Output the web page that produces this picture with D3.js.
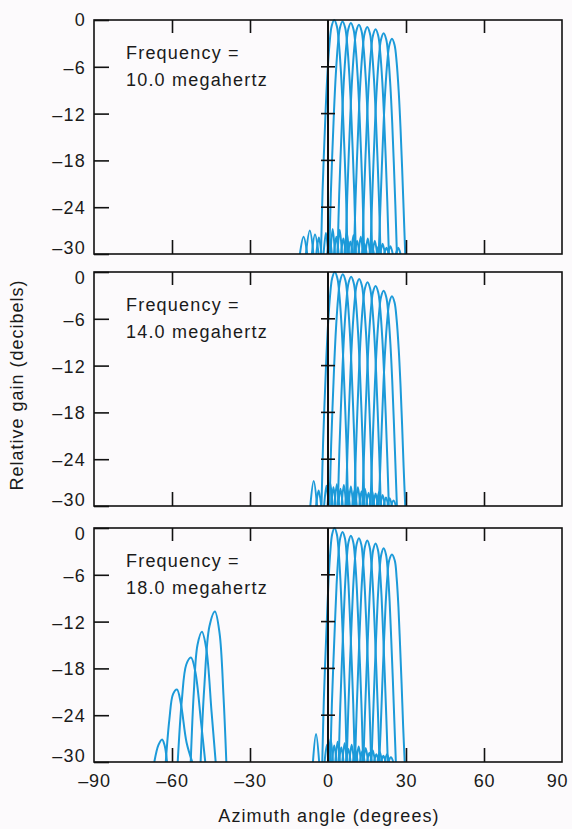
<!DOCTYPE html>
<html>
<head>
<meta charset="utf-8">
<script src="https://cdn.jsdelivr.net/npm/d3@7"></script>
<style>
  html, body { margin: 0; padding: 0; background: #fcfafc; }
  svg { display: block; }
  text { font-family: "Liberation Sans", Arial, sans-serif; fill: #1a1a1a; }
</style>
</head>
<body>
<svg id="chart" width="572" height="829"></svg>
<script>
// ---------------- DATA ----------------
const xTicks = [-90, -60, -30, 0, 30, 60, 90];
const xTickLabels = ["\u201390", "\u201360", "\u201330", "0", "30", "60", "90"];
const yTicks = [0, -6, -12, -18, -24, -30];
const yTickLabels = ["0", "\u20136", "\u201312", "\u201318", "\u201324", "\u201330"];
const frequencies = ["10.0", "14.0", "18.0"];

// Main beams, 10 MHz  ([azimuth deg, relative gain dB])
const beams10 = [
  [[-2.7,-30],[-2.1,-22],[-1.5,-16.5],[-0.9,-11.5],[-0.2,-6.8],[0.6,-3],[1.4,-0.8],[2.4,0],[3.4,-0.8],[4.2,-3],[5.0,-6.8],[5.7,-11.5],[6.3,-16.5],[6.9,-22],[7.5,-30]],
  [[0.5,-30],[1.1,-22.2],[1.7,-16.7],[2.3,-11.7],[3.0,-7],[3.8,-3.2],[4.6,-1],[5.6,-0.2],[6.6,-1],[7.4,-3.2],[8.2,-7],[8.9,-11.7],[9.5,-16.7],[10.1,-22.2],[10.7,-30]],
  [[3.7,-30],[4.3,-22.4],[4.9,-16.9],[5.5,-11.9],[6.2,-7.2],[7.0,-3.4],[7.8,-1.2],[8.8,-0.4],[9.8,-1.2],[10.6,-3.4],[11.4,-7.2],[12.1,-11.9],[12.7,-16.9],[13.3,-22.4],[13.9,-30]],
  [[6.8,-30],[7.4,-22.6],[8.0,-17.1],[8.6,-12.1],[9.3,-7.4],[10.1,-3.6],[10.9,-1.4],[11.9,-0.6],[12.9,-1.4],[13.7,-3.6],[14.5,-7.4],[15.2,-12.1],[15.8,-17.1],[16.4,-22.6],[17.0,-30]],
  [[10.0,-30],[10.6,-22.9],[11.2,-17.4],[11.8,-12.4],[12.5,-7.7],[13.3,-3.9],[14.1,-1.7],[15.1,-0.9],[16.1,-1.7],[16.9,-3.9],[17.7,-7.7],[18.4,-12.4],[19.0,-17.4],[19.6,-22.9],[20.2,-30]],
  [[13.2,-30],[13.8,-23.2],[14.4,-17.7],[15.0,-12.7],[15.7,-8],[16.5,-4.2],[17.3,-2],[18.3,-1.2],[19.3,-2],[20.1,-4.2],[20.9,-8],[21.6,-12.7],[22.2,-17.7],[22.8,-23.2],[23.4,-30]],
  [[16.3,-30],[16.9,-23.7],[17.5,-18.2],[18.1,-13.2],[18.8,-8.5],[19.6,-4.7],[20.4,-2.5],[21.4,-1.7],[22.4,-2.5],[23.2,-4.7],[24.0,-8.5],[24.7,-13.2],[25.3,-18.2],[25.9,-23.7],[26.5,-30]],
  [[19.5,-30],[20.1,-24.4],[20.7,-18.9],[21.3,-13.9],[22.0,-9.2],[22.8,-5.4],[23.6,-3.2],[24.6,-2.4],[25.6,-3.2],[26.4,-5.4],[27.2,-9.2],[27.9,-13.9],[28.5,-18.9],[29.1,-24.4],[29.7,-30]]
];
const side10 = [
  [[-10.8,-30],[-9.4,-27.8],[-8.0,-30]], [[-8.5,-30],[-7.0,-27.0],[-5.6,-30]],
  [[-6.2,-30],[-5.0,-27.5],[-3.6,-30]], [[-4.5,-30],[-3.5,-27.9],[-2.5,-30]],
  [[-1.7,-30],[-0.8,-27.3],[0.1,-30]], [[-0.3,-30],[0.6,-28.0],[1.5,-30]],
  [[0.9,-30],[1.8,-26.8],[2.7,-30]], [[2.3,-30],[3.2,-27.8],[4.1,-30]],
  [[3.6,-30],[4.5,-26.9],[5.4,-30]], [[5.0,-30],[5.9,-28.0],[6.8,-30]],
  [[6.3,-30],[7.2,-27.2],[8.1,-30]], [[7.7,-30],[8.6,-28.4],[9.5,-30]],
  [[8.9,-30],[9.8,-27.6],[10.7,-30]], [[10.3,-30],[11.2,-28.3],[12.1,-30]],
  [[11.7,-30],[12.6,-27.8],[13.5,-30]], [[13.1,-30],[14.0,-28.7],[14.9,-30]],
  [[14.4,-30],[15.3,-28.0],[16.2,-30]], [[15.9,-30],[16.8,-28.8],[17.7,-30]],
  [[17.1,-30],[18.0,-28.3],[18.9,-30]], [[18.6,-30],[19.5,-29.0],[20.4,-30]],
  [[20.1,-30],[21.0,-28.7],[21.9,-30]], [[21.6,-30],[22.5,-29.2],[23.4,-30]],
  [[23.1,-30],[24.0,-29.0],[24.9,-30]], [[26.1,-30],[27.0,-29.2],[27.9,-30]]
];

// Main beams, 14 MHz
const beams14 = [
  [[-2.5,-30],[-1.9,-22],[-1.3,-16.5],[-0.7,-11.5],[0.0,-6.8],[0.8,-3],[1.6,-0.8],[2.6,0],[3.6,-0.8],[4.4,-3],[5.2,-6.8],[5.9,-11.5],[6.5,-16.5],[7.1,-22],[7.7,-30]],
  [[0.6,-30],[1.2,-22.3],[1.8,-16.8],[2.4,-11.8],[3.1,-7.1],[3.9,-3.3],[4.7,-1.1],[5.7,-0.3],[6.7,-1.1],[7.5,-3.3],[8.3,-7.1],[9.0,-11.8],[9.6,-16.8],[10.2,-22.3],[10.8,-30]],
  [[3.8,-30],[4.4,-22.6],[5.0,-17.1],[5.6,-12.1],[6.3,-7.4],[7.1,-3.6],[7.9,-1.4],[8.9,-0.6],[9.9,-1.4],[10.7,-3.6],[11.5,-7.4],[12.2,-12.1],[12.8,-17.1],[13.4,-22.6],[14.0,-30]],
  [[6.9,-30],[7.5,-22.9],[8.1,-17.4],[8.7,-12.4],[9.4,-7.7],[10.2,-3.9],[11.0,-1.7],[12.0,-0.9],[13.0,-1.7],[13.8,-3.9],[14.6,-7.7],[15.3,-12.4],[15.9,-17.4],[16.5,-22.9],[17.1,-30]],
  [[10.1,-30],[10.7,-23.3],[11.3,-17.8],[11.9,-12.8],[12.6,-8.1],[13.4,-4.3],[14.2,-2.1],[15.2,-1.3],[16.2,-2.1],[17.0,-4.3],[17.8,-8.1],[18.5,-12.8],[19.1,-17.8],[19.7,-23.3],[20.3,-30]],
  [[13.2,-30],[13.8,-23.8],[14.4,-18.3],[15.0,-13.3],[15.7,-8.6],[16.5,-4.8],[17.3,-2.6],[18.3,-1.8],[19.3,-2.6],[20.1,-4.8],[20.9,-8.6],[21.6,-13.3],[22.2,-18.3],[22.8,-23.8],[23.4,-30]],
  [[16.3,-30],[16.9,-24.4],[17.5,-18.9],[18.1,-13.9],[18.8,-9.2],[19.6,-5.4],[20.4,-3.2],[21.4,-2.4],[22.4,-3.2],[23.2,-5.4],[24.0,-9.2],[24.7,-13.9],[25.3,-18.9],[25.9,-24.4],[26.5,-30]],
  [[19.5,-30],[20.1,-25.1],[20.7,-19.6],[21.3,-14.6],[22.0,-9.9],[22.8,-6.1],[23.6,-3.9],[24.6,-3.1],[25.6,-3.9],[26.4,-6.1],[27.2,-9.9],[27.9,-14.6],[28.5,-19.6],[29.1,-25.1],[29.7,-30]]
];
const side14 = [
  [[-6.8,-30],[-5.5,-26.8],[-4.2,-30]], [[-4.6,-30],[-3.6,-28.0],[-2.6,-30]],
  [[-1.5,-30],[-0.6,-27.4],[0.3,-30]], [[-0.2,-30],[0.8,-27.0],[1.8,-30]],
  [[1.2,-30],[2.1,-27.6],[3.0,-30]], [[2.5,-30],[3.4,-27.2],[4.3,-30]],
  [[3.9,-30],[4.8,-27.8],[5.7,-30]], [[5.2,-30],[6.1,-27.3],[7.0,-30]],
  [[6.6,-30],[7.5,-27.9],[8.4,-30]], [[7.9,-30],[8.8,-27.5],[9.7,-30]],
  [[9.3,-30],[10.2,-28.0],[11.1,-30]], [[10.6,-30],[11.5,-27.6],[12.4,-30]],
  [[12.0,-30],[12.9,-28.1],[13.8,-30]], [[13.3,-30],[14.2,-27.8],[15.1,-30]],
  [[14.7,-30],[15.6,-28.3],[16.5,-30]], [[16.0,-30],[16.9,-28.0],[17.8,-30]],
  [[17.4,-30],[18.3,-28.4],[19.2,-30]], [[18.7,-30],[19.6,-28.2],[20.5,-30]],
  [[20.1,-30],[21.0,-28.6],[21.9,-30]], [[21.4,-30],[22.3,-28.9],[23.2,-30]],
  [[22.8,-30],[23.7,-29.0],[24.6,-30]], [[24.3,-30],[25.2,-29.3],[26.1,-30]]
];

// Main beams, 18 MHz
const beams18 = [
  [[-2.2,-30],[-1.6,-22],[-1.0,-16.5],[-0.4,-11.5],[0.2,-6.8],[0.9,-3],[1.6,-0.8],[2.5,0],[3.4,-0.8],[4.1,-3],[4.8,-6.8],[5.4,-11.5],[6.0,-16.5],[6.6,-22],[7.2,-30]],
  [[0.9,-30],[1.5,-22.5],[2.1,-17],[2.7,-12],[3.3,-7.3],[4.0,-3.5],[4.7,-1.3],[5.6,-0.5],[6.5,-1.3],[7.2,-3.5],[7.9,-7.3],[8.5,-12],[9.1,-17],[9.7,-22.5],[10.3,-30]],
  [[4.1,-30],[4.7,-23],[5.3,-17.5],[5.9,-12.5],[6.5,-7.8],[7.2,-4.0],[7.9,-1.8],[8.8,-1.0],[9.7,-1.8],[10.4,-4.0],[11.1,-7.8],[11.7,-12.5],[12.3,-17.5],[12.9,-23],[13.5,-30]],
  [[7.2,-30],[7.8,-23.3],[8.4,-17.8],[9.0,-12.8],[9.6,-8.1],[10.3,-4.3],[11.0,-2.1],[11.9,-1.3],[12.8,-2.1],[13.5,-4.3],[14.2,-8.1],[14.8,-12.8],[15.4,-17.8],[16.0,-23.3],[16.6,-30]],
  [[10.4,-30],[11.0,-23.6],[11.6,-18.1],[12.2,-13.1],[12.8,-8.4],[13.5,-4.6],[14.2,-2.4],[15.1,-1.6],[16.0,-2.4],[16.7,-4.6],[17.4,-8.4],[18.0,-13.1],[18.6,-18.1],[19.2,-23.6],[19.8,-30]],
  [[13.6,-30],[14.2,-24],[14.8,-18.5],[15.4,-13.5],[16.0,-8.8],[16.7,-5.0],[17.4,-2.8],[18.3,-2.0],[19.2,-2.8],[19.9,-5.0],[20.6,-8.8],[21.2,-13.5],[21.8,-18.5],[22.4,-24],[23.0,-30]],
  [[16.7,-30],[17.3,-24.6],[17.9,-19.1],[18.5,-14.1],[19.1,-9.4],[19.8,-5.6],[20.5,-3.4],[21.4,-2.6],[22.3,-3.4],[23.0,-5.6],[23.7,-9.4],[24.3,-14.1],[24.9,-19.1],[25.5,-24.6],[26.1,-30]],
  [[19.7,-30],[20.3,-25.4],[20.9,-19.9],[21.5,-14.9],[22.1,-10.2],[22.8,-6.4],[23.5,-4.2],[24.6,-3.4],[25.7,-4.2],[26.4,-6.4],[27.1,-10.2],[27.7,-14.9],[28.3,-19.9],[28.9,-25.4],[29.5,-30]]
];
const side18 = [
  [[-5.8,-30],[-4.6,-26.4],[-3.4,-30]], [[-1.3,-30],[-0.4,-27.8],[0.5,-30]],
  [[0.1,-30],[1.0,-27.0],[1.9,-30]], [[1.5,-30],[2.4,-27.9],[3.3,-30]],
  [[2.8,-30],[3.7,-27.4],[4.6,-30]], [[4.2,-30],[5.1,-28.1],[6.0,-30]],
  [[5.5,-30],[6.4,-27.6],[7.3,-30]], [[6.9,-30],[7.8,-28.3],[8.7,-30]],
  [[8.2,-30],[9.1,-27.8],[10.0,-30]], [[9.6,-30],[10.5,-28.4],[11.4,-30]],
  [[10.9,-30],[11.8,-28.0],[12.7,-30]], [[12.3,-30],[13.2,-28.6],[14.1,-30]],
  [[13.6,-30],[14.5,-28.2],[15.4,-30]], [[15.0,-30],[15.9,-28.8],[16.8,-30]],
  [[16.3,-30],[17.2,-28.5],[18.1,-30]], [[17.7,-30],[18.6,-29.0],[19.5,-30]],
  [[19.0,-30],[19.9,-28.7],[20.8,-30]], [[20.4,-30],[21.3,-29.2],[22.2,-30]],
  [[21.8,-30],[22.7,-29.0],[23.6,-30]], [[23.3,-30],[24.2,-29.4],[25.1,-30]]
];
// Grating lobes, 18 MHz
const grating18 = [
  [[-66.8,-30],[-65.2,-27.8],[-63.8,-27.1],[-62.9,-27.8],[-61.9,-30]],
  [[-62.4,-30],[-61.0,-24.5],[-59.6,-21.3],[-58.1,-20.7],[-56.6,-22.5],[-54.4,-27.5],[-52.2,-30]],
  [[-57.8,-30],[-56.2,-22.0],[-54.5,-17.5],[-52.7,-16.6],[-51.0,-18.5],[-48.8,-25.0],[-47.2,-30]],
  [[-52.8,-30],[-51.6,-21.0],[-50.2,-15.0],[-48.5,-13.3],[-46.8,-15.5],[-44.8,-23.5],[-43.2,-30]],
  [[-49.0,-30],[-47.6,-20.5],[-45.6,-12.6],[-43.5,-10.7],[-41.7,-13.5],[-40.2,-21.5],[-39.1,-30]]
];

const panels = [
  { freq: frequencies[0], beams: beams10, side: side10, extra: [] },
  { freq: frequencies[1], beams: beams14, side: side14, extra: [] },
  { freq: frequencies[2], beams: beams18, side: side18, extra: grating18 }
];

// ---------------- LAYOUT ----------------
const left = 94, right = 562;
const panelTops = [20, 272, 528];
const panelH = 234;
const blue = "#1c9ad9";

const svg = d3.select("#chart");
const x = d3.scaleLinear().domain([-90, 90]).range([left, right]);

panels.forEach((p, i) => {
  const top = panelTops[i];
  const y = d3.scaleLinear().domain([0, -30]).range([top, top + panelH]);
  const g = svg.append("g");

  const clipId = "clip" + i;
  svg.append("clipPath").attr("id", clipId)
    .append("rect").attr("x", left).attr("y", top - 1).attr("width", right - left).attr("height", panelH + 1);

  const line = d3.line()
    .x(d => x(d[0])).y(d => y(d[1]))
    .curve(d3.curveCatmullRom.alpha(0.5));

  const curves = g.append("g").attr("clip-path", `url(#${clipId})`);
  const all = p.side.concat(p.extra, p.beams);
  curves.selectAll("path").data(all).join("path")
    .attr("d", line)
    .attr("fill", "none")
    .attr("stroke", blue)
    .attr("stroke-width", 2)
    .attr("stroke-linejoin", "round");

  // left axis with inward ticks
  const yAxis = d3.axisLeft(y).tickValues(yTicks).tickSize(-15).tickPadding(24)
    .tickFormat((d, k) => yTickLabels[k]);
  const ya = g.append("g").attr("transform", `translate(${left},0)`).call(yAxis);
  ya.select(".domain").remove();
  ya.selectAll("line").attr("stroke", "#111").attr("stroke-width", 1.6);
  ya.selectAll("text").attr("font-size", 18).attr("letter-spacing", 1.2)
    .attr("font-family", "Liberation Sans, Arial, sans-serif").attr("fill", "#1a1a1a")
    .attr("x", -8)
    .attr("dy", d => d === 0 ? (i === 0 ? "0.28em" : "0.62em") : (d === -30 ? "-0.02em" : "0.36em"));

  // top inward ticks
  const topAxis = d3.axisTop(x).tickValues(xTicks.filter(v => v !== 0 && Math.abs(v) !== 90)).tickSize(-13).tickFormat("");
  const ta = g.append("g").attr("transform", `translate(0,${top})`).call(topAxis);
  ta.select(".domain").remove();
  ta.selectAll("line").attr("stroke", "#111").attr("stroke-width", 1.6);

  // bottom inward ticks
  const botAxis = d3.axisBottom(x).tickValues(xTicks.filter(v => v !== 0 && Math.abs(v) !== 90)).tickSize(-14).tickFormat("");
  const ba = g.append("g").attr("transform", `translate(0,${top + panelH})`).call(botAxis);
  ba.select(".domain").remove();
  ba.selectAll("line").attr("stroke", "#111").attr("stroke-width", 1.6);

  // zero-azimuth line with cross ticks
  g.append("line").attr("x1", x(0)).attr("x2", x(0)).attr("y1", y(0)).attr("y2", y(-30))
    .attr("stroke", "#111").attr("stroke-width", 2);
  g.selectAll("line.cross").data(yTicks.filter(v => v !== 0 && v !== -30)).join("line")
    .attr("class", "cross")
    .attr("x1", x(0) - 7).attr("x2", x(0) + 7)
    .attr("y1", d => y(d)).attr("y2", d => y(d))
    .attr("stroke", "#111").attr("stroke-width", 1.6);

  // frame
  g.append("rect").attr("x", left).attr("y", top).attr("width", right - left).attr("height", panelH)
    .attr("fill", "none").attr("stroke", "#111").attr("stroke-width", 1.6);

  // annotation
  const t = g.append("text").attr("x", 126).attr("y", top + 39)
    .attr("font-size", 18).attr("letter-spacing", 1.2);
  t.append("tspan").attr("x", 126).text("Frequency =");
  t.append("tspan").attr("x", 126).attr("dy", 27).text(p.freq + " megahertz");

  if (i === 2) {
    const xAxis = d3.axisBottom(x).tickValues(xTicks).tickSize(0).tickPadding(12)
      .tickFormat((d, k) => xTickLabels[k]);
    const xa = g.append("g").attr("transform", `translate(0,${top + panelH})`).call(xAxis);
    xa.select(".domain").remove();
    xa.selectAll("text").attr("font-size", 18).attr("letter-spacing", 0.8)
      .attr("font-family", "Liberation Sans, Arial, sans-serif").attr("fill", "#1a1a1a")
      .attr("dx", d => d === 90 ? -5 : 0);
  }
});

svg.append("text").attr("x", 329).attr("y", 822).attr("text-anchor", "middle")
  .attr("font-size", 18).attr("letter-spacing", 1.1).text("Azimuth angle (degrees)");
svg.append("text").attr("transform", "translate(23,385) rotate(-90)").attr("text-anchor", "middle")
  .attr("font-size", 18).attr("letter-spacing", 1.0).text("Relative gain (decibels)");
</script>
</body>
</html>
